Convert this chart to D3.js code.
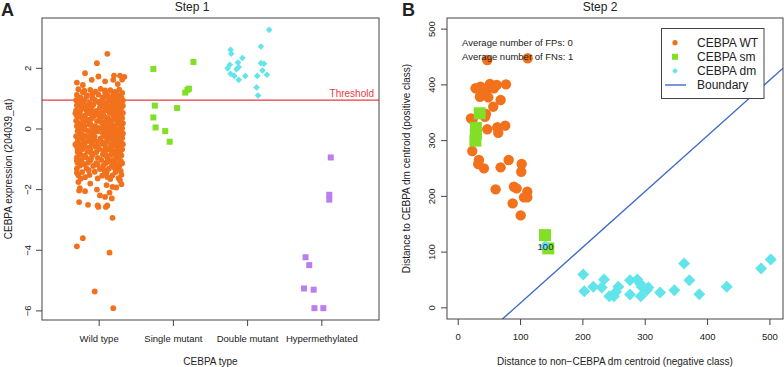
<!DOCTYPE html>
<html>
<head>
<meta charset="utf-8">
<script src="https://cdn.jsdelivr.net/npm/d3@7"></script>
<style>
  body { margin: 0; background: #fff; }
  text { font-family: "Liberation Sans", Arial, sans-serif; fill: #222; }
</style>
</head>
<body>
<div id="chart"></div>
<script>
// ---- data: panel A (Step 1) ----
const typeLabels = ["Wild type", "Single mutant", "Double mutant", "Hypermethylated"];
const typeTicks = [-6, -4, -2, 0, 2];
const threshold = 0.95;

// [jitter offset (category units), expression]
const wildType = [
  [0.11,2.48],[-0.03,2.17],[-0.19,1.84],[-0.30,1.53],[0.20,1.76],[0.28,1.76],[0.34,1.72],[-0.01,1.73],
  [-0.10,1.62],[0.08,1.57],[0.19,1.62],[0.25,1.48],[-0.22,1.45],[0.31,1.63],
  [-0.28,1.31],[-0.12,1.29],[0.02,1.32],[0.15,1.28],[0.27,1.30],
  [-0.22,1.21],[-0.05,1.23],[0.08,1.20],[0.21,1.22],[0.31,1.19],
  [-0.30,1.12],[-0.16,1.11],[-0.01,1.13],[0.12,1.10],[0.25,1.12],
  [-0.25,1.03],[-0.09,1.02],[0.05,1.04],[0.18,1.01],[0.30,1.03],
  [-0.31,0.95],[-0.20,0.94],[-0.06,0.96],[0.03,0.93],[0.14,0.95],[0.24,0.96],[0.32,0.94],
  [-0.27,0.86],[-0.13,0.85],[0.00,0.87],[0.10,0.86],[0.20,0.84],[0.29,0.87],
  [-0.30,0.78],[-0.18,0.77],[-0.08,0.79],[0.06,0.78],[0.16,0.76],[0.26,0.79],[0.32,0.77],
  [-0.24,0.70],[-0.11,0.69],[0.01,0.71],[0.12,0.70],[0.22,0.68],[0.30,0.71],
  [-0.31,0.61],[-0.17,0.62],[-0.04,0.60],[0.08,0.61],[0.18,0.63],[0.27,0.60],
  [-0.26,0.53],[-0.13,0.52],[0.03,0.54],[0.14,0.53],[0.24,0.51],[0.32,0.53],
  [-0.30,0.44],[-0.19,0.45],[-0.07,0.43],[0.06,0.44],[0.19,0.46],[0.29,0.44],
  [-0.23,0.36],[-0.10,0.35],[0.01,0.37],[0.12,0.36],[0.23,0.34],[0.31,0.36],
  [-0.31,0.27],[-0.16,0.28],[-0.03,0.26],[0.09,0.27],[0.17,0.29],[0.27,0.26],
  [-0.26,0.19],[-0.12,0.18],[0.04,0.20],[0.14,0.19],[0.25,0.17],[0.32,0.19],
  [-0.30,0.10],[-0.20,0.11],[-0.06,0.09],[0.07,0.10],[0.20,0.12],[0.29,0.10],
  [-0.24,0.02],[-0.09,0.01],[0.02,0.03],[0.13,0.02],[0.22,0.00],[0.31,0.02],
  [-0.29,-0.07],[-0.15,-0.06],[-0.02,-0.08],[0.10,-0.07],[0.18,-0.05],[0.28,-0.08],
  [-0.25,-0.15],[-0.11,-0.16],[0.05,-0.14],[0.15,-0.15],[0.26,-0.17],[0.32,-0.15],
  [-0.31,-0.24],[-0.18,-0.23],[-0.06,-0.25],[0.08,-0.24],[0.21,-0.22],[0.30,-0.24],
  [-0.22,-0.32],[-0.08,-0.33],[0.02,-0.31],[0.13,-0.32],[0.24,-0.34],
  [-0.29,-0.41],[-0.15,-0.40],[-0.03,-0.42],[0.10,-0.41],[0.19,-0.39],[0.29,-0.42],
  [-0.25,-0.50],[-0.10,-0.51],[0.04,-0.49],[0.16,-0.50],[0.27,-0.52],[0.32,-0.50],
  [-0.30,-0.58],[-0.19,-0.57],[-0.05,-0.59],[0.09,-0.58],[0.22,-0.56],
  [-0.23,-0.67],[-0.12,-0.68],[0.00,-0.66],[0.13,-0.67],[0.25,-0.69],[0.31,-0.67],
  [-0.29,-0.76],[-0.16,-0.75],[-0.04,-0.77],[0.08,-0.76],[0.19,-0.74],[0.28,-0.77],
  [-0.25,-0.85],[-0.09,-0.86],[0.05,-0.84],[0.16,-0.85],[0.30,-0.87],
  [-0.30,-0.94],[-0.18,-0.93],[-0.02,-0.95],[0.11,-0.94],[0.23,-0.92],
  [-0.24,-1.03],[-0.12,-1.04],[0.03,-1.02],[0.18,-1.03],[0.29,-1.05],
  [-0.29,-1.12],[-0.15,-1.11],[-0.04,-1.13],[0.09,-1.12],[0.21,-1.10],[0.31,-1.13],
  [-0.26,-1.21],[-0.08,-1.22],[0.06,-1.20],[0.17,-1.21],[0.27,-1.23],
  [-0.30,-1.31],[-0.17,-1.30],[0.01,-1.32],[0.13,-1.31],[0.24,-1.29],
  [-0.23,-1.42],[-0.06,-1.41],[0.10,-1.43],[0.22,-1.42],
  [-0.28,-1.53],[-0.13,-1.52],[0.04,-1.54],[0.18,-1.53],[0.30,-1.51],
  [-0.25,-1.64],[-0.02,-1.63],[0.15,-1.65],[0.26,-1.62],
  [-0.28,-1.75],[0.28,-1.69],[-0.12,-1.80],[0.30,-1.82],[0.10,-1.85],[0.18,-1.91],[0.23,-1.93],
  [-0.27,-2.03],[-0.26,-1.95],[-0.19,-2.05],[-0.03,-2.00],[0.01,-2.19],[0.08,-2.24],[0.14,-2.10],
  [0.17,-2.29],[-0.27,-2.41],[-0.15,-2.50],[-0.02,-2.52],[-0.01,-2.57],[0.11,-2.52],[0.09,-2.57],
  [0.18,-2.93],[-0.22,-3.60],[-0.30,-3.87],[0.14,-4.08],[-0.06,-5.36],[0.19,-5.91],
  // the denser core, between the rows above
  [-0.20,1.26],[0.08,1.27],[-0.09,1.16],[0.19,1.15],[-0.17,1.07],[0.11,1.06],[0.24,1.07],
  [-0.26,0.90],[-0.03,0.90],[0.17,0.91],[0.06,0.82],[-0.22,0.82],[0.22,0.81],[-0.15,0.73],
  [0.06,0.74],[0.26,0.74],[-0.24,0.65],[0.13,0.66],[-0.09,0.57],[0.20,0.57],[-0.32,0.52],
  [-0.02,0.48],[0.24,0.48],[-0.27,0.40],[0.07,0.40],[-0.15,0.31],[0.21,0.31],[0.03,0.23],
  [-0.21,0.23],[0.28,0.22],[-0.13,0.14],[0.13,0.15],[-0.28,0.06],[0.17,0.06],[-0.03,0.05],
  [-0.19,-0.02],[0.06,-0.03],[0.24,-0.03],[-0.07,-0.11],[0.22,-0.11],[-0.23,-0.19],[0.10,-0.20],
  [-0.13,-0.28],[0.15,-0.28],[0.31,-0.30],[-0.28,-0.33],[-0.09,-0.37],[0.24,-0.38],[-0.20,-0.45],
  [0.04,-0.45],[0.22,-0.46],[-0.32,-0.51],[-0.03,-0.54],[0.29,-0.57],[-0.14,-0.62],[0.16,-0.62],
  [-0.29,-0.68],[0.06,-0.71],[-0.10,-0.80],[0.22,-0.81],[-0.20,-0.89],[0.10,-0.89],[0.25,-0.97],
  [-0.11,-0.98],[-0.30,-1.05],[0.12,-1.07],[-0.20,-1.16],[0.26,-1.17],[-0.02,-1.18],[0.20,-1.26],
  [-0.14,-1.36],[0.07,-1.37],[0.29,-1.38],[-0.30,-1.44],[0.11,-1.58],[-0.19,-1.59]
];
const singleMutant = [
  [-0.27,1.98],[0.27,2.21],[0.16,1.20],[0.19,1.29],[0.21,1.33],[-0.25,0.77],
  [0.05,0.69],[-0.27,0.38],[-0.24,0.05],[-0.11,-0.07],[-0.05,-0.42]
];
const doubleMutant = [
  [0.29,3.27],[0.18,2.72],[-0.23,2.61],[-0.22,2.48],[-0.07,2.34],[-0.13,2.19],[-0.24,2.12],
  [0.18,2.17],[0.22,2.15],[-0.27,2.00],[-0.15,1.97],[-0.12,2.04],[0.20,1.93],[-0.23,1.82],
  [-0.18,1.75],[-0.03,1.75],[-0.12,1.62],[0.13,1.75],[0.26,1.79],[0.12,1.37],[0.14,1.10]
];
const hypermethylated = [
  [0.12,-0.94],[0.10,-2.17],[0.10,-2.33],[-0.22,-4.23],[-0.17,-4.49],
  [-0.24,-5.26],[-0.11,-5.30],[-0.10,-5.91],[0.02,-5.91]
];

// ---- data: panel B (Step 2) ----
const distTicks = [0, 100, 200, 300, 400, 500];
// [distance to non-dm centroid, distance to dm centroid]
const wtDist = [
  [46.6,444.7],[111.4,447.7],[35.9,396.8],[50.9,401.6],[61.6,399.8],[76.6,401.0],[40.2,390.8],
  [46.6,392.0],[57.3,393.9],[27.9,394.0],[34.8,378.8],[48.2,377.7],[68.0,372.9],[56.2,360.9],
  [23.1,338.2],[42.9,342.9],[20.4,340.0],[44.5,347.8],[46.6,320.3],[62.6,323.9],[64.2,314.2],
  [75.4,326.8],[22.5,281.3],[33.2,265.2],[32.1,258.0],[41.3,250.3],[68.0,252.1],[80.9,265.2],
  [101.8,258.0],[101.1,244.2],[60.0,212.6],[89.4,217.2],[93.7,214.4],[110.8,208.3],
  [105.5,198.2],[110.8,198.2],[87.3,187.4],[100.2,165.9]
];
const smDist = [[34.5,349],[28.4,323],[28.4,313],[27.6,300],[139.2,130.5],[144.5,106.6]];
const dmDist = [
  [140,110],[200.6,60],[202.2,30],[216.7,37.7],[233.9,51],[230.2,36.6],[242.4,21],[249.9,21],
  [256.8,37.7],[253.1,28.7],[275.6,49.7],[287.3,51],[275.6,24],[291.7,43.8],[294.4,37.7],
  [292.8,21],[302.4,31.8],[305,36.6],[323.8,27.6],[346.7,31.8],[362.3,79.7],[370.8,49.7],
  [386.8,24.6],[430.8,37.7],[485.9,70.7],[501.4,86.9]
];
const sampleLabel = { name: "100", pos: [140, 110] };
const boundarySlope = 1, boundaryIntercept = -91;
const statLines = ["Average number of FPs: 0", "Average number of FNs: 1"];
const legendItems = ["CEBPA WT", "CEBPA sm", "CEBPA dm", "Boundary"];

const colors = { wt: "#f2711c", sm: "#80df26", dm: "#62e5ea", hm: "#b97ef0", line: "#3d6bc6", thr: "#e83a44" };
const axisColor = "#444";

const svg = d3.select("#chart").append("svg")
    .attr("width", 784)
    .attr("height", 367);

// ================= Panel A =================
const boxA = { left: 42, right: 379, top: 18, bottom: 320 };
const xA = d3.scaleLinear().domain([0.23, 4.77]).range([boxA.left, boxA.right]);
const yA = d3.scaleLinear().domain([-6.3, 3.66]).range([boxA.bottom, boxA.top]);

const gA = svg.append("g");

gA.append("line")
    .attr("x1", boxA.left).attr("x2", boxA.right)
    .attr("y1", yA(threshold)).attr("y2", yA(threshold))
    .attr("stroke", colors.thr).attr("stroke-width", 1.3);
gA.append("text")
    .attr("x", boxA.right - 5).attr("y", yA(threshold) - 3)
    .attr("text-anchor", "end")
    .style("font-size", "10px").style("fill", colors.thr)
    .text("Threshold");

gA.selectAll(".wt").data(wildType).enter().append("circle")
    .attr("cx", d => xA(1 + d[0]))
    .attr("cy", d => yA(d[1]))
    .attr("r", 2.9)
    .attr("fill", colors.wt);

const sqA = 6;
gA.selectAll(".sm").data(singleMutant).enter().append("rect")
    .attr("x", d => xA(2 + d[0]) - sqA / 2)
    .attr("y", d => yA(d[1]) - sqA / 2)
    .attr("width", sqA).attr("height", sqA)
    .attr("fill", colors.sm);

gA.selectAll(".dm").data(doubleMutant).enter().append("path")
    .attr("d", d3.symbol(d3.symbolSquare, 22))
    .attr("transform", d => `translate(${xA(3 + d[0])},${yA(d[1])}) rotate(45)`)
    .attr("fill", colors.dm);

gA.selectAll(".hm").data(hypermethylated).enter().append("rect")
    .attr("x", d => xA(4 + d[0]) - sqA / 2)
    .attr("y", d => yA(d[1]) - sqA / 2)
    .attr("width", sqA).attr("height", sqA)
    .attr("fill", colors.hm);

// box + axes
gA.append("rect")
    .attr("x", boxA.left).attr("y", boxA.top)
    .attr("width", boxA.right - boxA.left).attr("height", boxA.bottom - boxA.top)
    .attr("fill", "none").attr("stroke", axisColor);

typeLabels.forEach((t, i) => {
    const x = xA(i + 1);
    gA.append("line").attr("x1", x).attr("x2", x)
        .attr("y1", boxA.bottom).attr("y2", boxA.bottom + 6).attr("stroke", axisColor);
    gA.append("text").attr("x", x).attr("y", 342)
        .attr("text-anchor", "middle").style("font-size", "9.5px").text(t);
});
typeTicks.forEach(v => {
    const y = yA(v);
    gA.append("line").attr("x1", boxA.left - 6).attr("x2", boxA.left)
        .attr("y1", y).attr("y2", y).attr("stroke", axisColor);
    gA.append("text")
        .attr("transform", `translate(28,${y}) rotate(-90)`)
        .attr("dy", "0.35em").attr("text-anchor", "middle")
        .style("font-size", "9.5px").text(d3.format("")(v).replace("-", "\u2212"));
});

gA.append("text").attr("x", (boxA.left + boxA.right) / 2).attr("y", 365)
    .attr("text-anchor", "middle").style("font-size", "10px").text("CEBPA type");
gA.append("text")
    .attr("transform", `translate(8,${(boxA.top + boxA.bottom) / 2}) rotate(-90)`)
    .attr("dy", "0.35em").attr("text-anchor", "middle")
    .style("font-size", "10px").text("CEBPA expression (204039_at)");
gA.append("text").attr("x", 192).attr("y", 11)
    .attr("text-anchor", "middle").style("font-size", "12px").text("Step 1");
gA.append("text").attr("x", 1).attr("y", 16)
    .style("font-size", "18px").style("font-weight", "bold").text("A");

// ================= Panel B =================
const boxB = { left: 447, right: 783, top: 18, bottom: 319 };
const xB = d3.scaleLinear().domain([-18, 521]).range([boxB.left, boxB.right]);
const yB = d3.scaleLinear().domain([-20, 520]).range([boxB.bottom, boxB.top]);

const gB = svg.append("g");

gB.append("clipPath").attr("id", "clipB").append("rect")
    .attr("x", boxB.left).attr("y", boxB.top)
    .attr("width", boxB.right - boxB.left).attr("height", boxB.bottom - boxB.top);

const bx0 = -18, bx1 = 521;
gB.append("line")
    .attr("clip-path", "url(#clipB)")
    .attr("x1", xB(bx0)).attr("y1", yB(boundarySlope * bx0 + boundaryIntercept))
    .attr("x2", xB(bx1)).attr("y2", yB(boundarySlope * bx1 + boundaryIntercept))
    .attr("stroke", colors.line).attr("stroke-width", 1.4);

gB.selectAll(".wtB").data(wtDist).enter().append("circle")
    .attr("cx", d => xB(d[0])).attr("cy", d => yB(d[1]))
    .attr("r", 5.2).attr("fill", colors.wt);

gB.selectAll(".dmB").data(dmDist).enter().append("path")
    .attr("d", d3.symbol(d3.symbolSquare, 72))
    .attr("transform", d => `translate(${xB(d[0])},${yB(d[1])}) rotate(45)`)
    .attr("fill", colors.dm);

const sqB = 12;
gB.selectAll(".smB").data(smDist).enter().append("rect")
    .attr("x", d => xB(d[0]) - sqB / 2).attr("y", d => yB(d[1]) - sqB / 2)
    .attr("width", sqB).attr("height", sqB)
    .attr("fill", colors.sm);

// cyan sample peeking through, then its id
gB.append("path")
    .attr("d", d3.symbol(d3.symbolSquare, 40))
    .attr("transform", `translate(${xB(sampleLabel.pos[0])},${yB(sampleLabel.pos[1]) - 1}) rotate(45)`)
    .attr("fill", colors.dm);
gB.append("text")
    .attr("x", xB(sampleLabel.pos[0])).attr("y", yB(sampleLabel.pos[1]))
    .attr("dy", "0.35em").attr("text-anchor", "middle")
    .style("font-size", "9.5px").style("fill", "#1b2b44")
    .text(sampleLabel.name);

gB.append("rect")
    .attr("x", boxB.left).attr("y", boxB.top)
    .attr("width", boxB.right - boxB.left).attr("height", boxB.bottom - boxB.top)
    .attr("fill", "none").attr("stroke", axisColor);

distTicks.forEach(v => {
    const x = xB(v), y = yB(v);
    gB.append("line").attr("x1", x).attr("x2", x)
        .attr("y1", boxB.bottom).attr("y2", boxB.bottom + 6).attr("stroke", axisColor);
    gB.append("text").attr("x", x).attr("y", 340)
        .attr("text-anchor", "middle").style("font-size", "9.5px").text(v);
    gB.append("line").attr("x1", boxB.left - 6).attr("x2", boxB.left)
        .attr("y1", y).attr("y2", y).attr("stroke", axisColor);
    gB.append("text")
        .attr("transform", `translate(432,${y}) rotate(-90)`)
        .attr("dy", "0.35em").attr("text-anchor", "middle")
        .style("font-size", "9.5px").text(v);
});

gB.append("text").attr("x", (boxB.left + boxB.right) / 2).attr("y", 365)
    .attr("text-anchor", "middle").style("font-size", "10px")
    .text("Distance to non\u2212CEBPA dm centroid (negative class)");
gB.append("text")
    .attr("transform", `translate(406,${(boxB.top + boxB.bottom) / 2}) rotate(-90)`)
    .attr("dy", "0.35em").attr("text-anchor", "middle")
    .style("font-size", "10px").text("Distance to CEBPA dm centroid (positive class)");
gB.append("text").attr("x", 600).attr("y", 11)
    .attr("text-anchor", "middle").style("font-size", "12px").text("Step 2");
gB.append("text").attr("x", 402).attr("y", 16)
    .style("font-size", "18px").style("font-weight", "bold").text("B");

statLines.forEach((s, i) => {
    gB.append("text").attr("x", 462).attr("y", 42.7 + i * 13.5)
        .attr("dy", "0.35em").style("font-size", "9.5px").text(s);
});

// legend
const legend = gB.append("g");
legend.append("rect")
    .attr("x", 661.5).attr("y", 28.5).attr("width", 102.5).attr("height", 70)
    .attr("fill", "#fff").attr("stroke", axisColor);
legendItems.forEach((name, i) => {
    const ly = 42.7 + i * 14.1;
    if (i === 0) legend.append("circle").attr("cx", 675).attr("cy", ly).attr("r", 2.6).attr("fill", colors.wt);
    if (i === 1) legend.append("rect").attr("x", 672).attr("y", ly - 3).attr("width", 6).attr("height", 6).attr("fill", colors.sm);
    if (i === 2) legend.append("path").attr("d", d3.symbol(d3.symbolSquare, 16))
        .attr("transform", `translate(675,${ly}) rotate(45)`).attr("fill", colors.dm);
    if (i === 3) legend.append("line").attr("x1", 665).attr("x2", 686)
        .attr("y1", ly).attr("y2", ly).attr("stroke", colors.line).attr("stroke-width", 1.4);
    legend.append("text").attr("x", 697).attr("y", ly).attr("dy", "0.35em")
        .style("font-size", "12px").text(name);
});
</script>
</body>
</html>
